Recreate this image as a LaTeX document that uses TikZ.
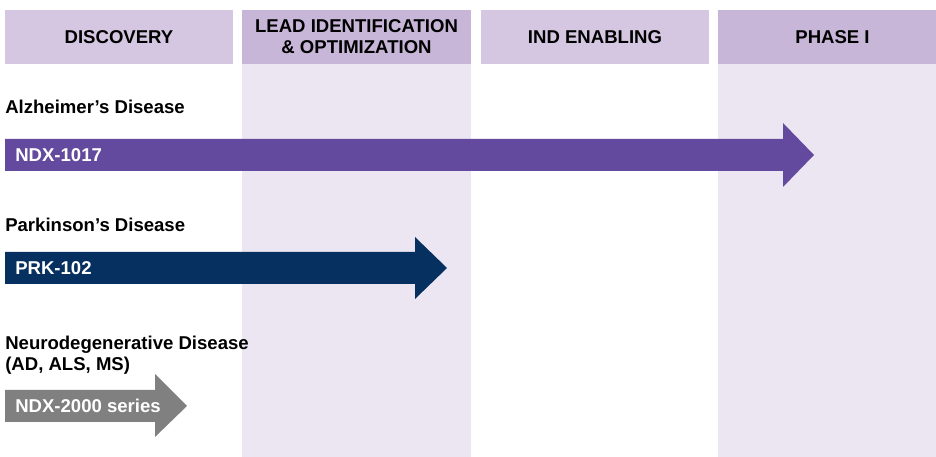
\documentclass[tikz,border=0pt]{standalone}
\usepackage{fontspec}
\setmainfont{Liberation Sans}
\usepackage{xcolor}

\definecolor{hdrlight}{HTML}{D5C7E2}
\definecolor{hdrdark}{HTML}{C8B6D8}
\definecolor{colshade}{HTML}{ECE6F2}
\definecolor{alzpurple}{HTML}{634A9E}
\definecolor{prknavy}{HTML}{05305F}
\definecolor{ndxgray}{HTML}{808080}
\newcommand{\pipefont}{\fontsize{13.2}{15}\selectfont\bfseries}

\begin{document}
\begin{tikzpicture}[x=0.025cm,y=-0.025cm]
\tikzstyle{phase}=[rectangle,fill=hdrlight,minimum width=5.7cm,minimum height=1.35cm,inner sep=0pt,align=center,font=\pipefont]
\tikzstyle{disease}=[anchor=north west,inner sep=0pt,align=left,font=\pipefont]
\tikzstyle{drug}=[anchor=west,inner sep=0pt,text=white,font=\pipefont]

\useasboundingbox (0,0) rectangle (936,457);

\node[phase](Discovery) at (119,37){DISCOVERY};
\node[phase,fill=hdrdark,minimum width=5.725cm](Lead) at (356.5,37){LEAD IDENTIFICATION\\\& OPTIMIZATION};
\node[phase](Ind) at (595,37){IND ENABLING};
\node[phase,fill=hdrdark](Phase) at (832.5,37){PHASE I};

% shaded columns
\fill[colshade] (Lead.south west) rectangle (Lead.south east |- 0,457);
\fill[colshade] (Phase.south west) rectangle (Phase.south east |- 0,457);

% programme arrows
\fill[alzpurple] (5,139) -- (783,139) -- (783,123) -- (814,155) -- (783,187) -- (783,171) -- (5,171) -- cycle;
\fill[prknavy] (5,252) -- (415,252) -- (415,237) -- (447,268) -- (415,299) -- (415,284) -- (5,284) -- cycle;
\fill[ndxgray] (5,390) -- (155,390) -- (155,374) -- (187,406) -- (155,437) -- (155,422) -- (5,422) -- cycle;

\node[disease](Alz) at (5,99.5){Alzheimer’s Disease};
\node[disease](Prk) at (5,217.5){Parkinson’s Disease};
\node[disease](Neuro) at (5,336){Neurodegenerative Disease\\(AD, ALS, MS)};

\node[drug](Ndx1017) at (15,155){NDX-1017};
\node[drug](Prk102) at (15,268){PRK-102};
\node[drug](Ndx2000) at (15,406){NDX-2000 series};

\end{tikzpicture}
\end{document}
